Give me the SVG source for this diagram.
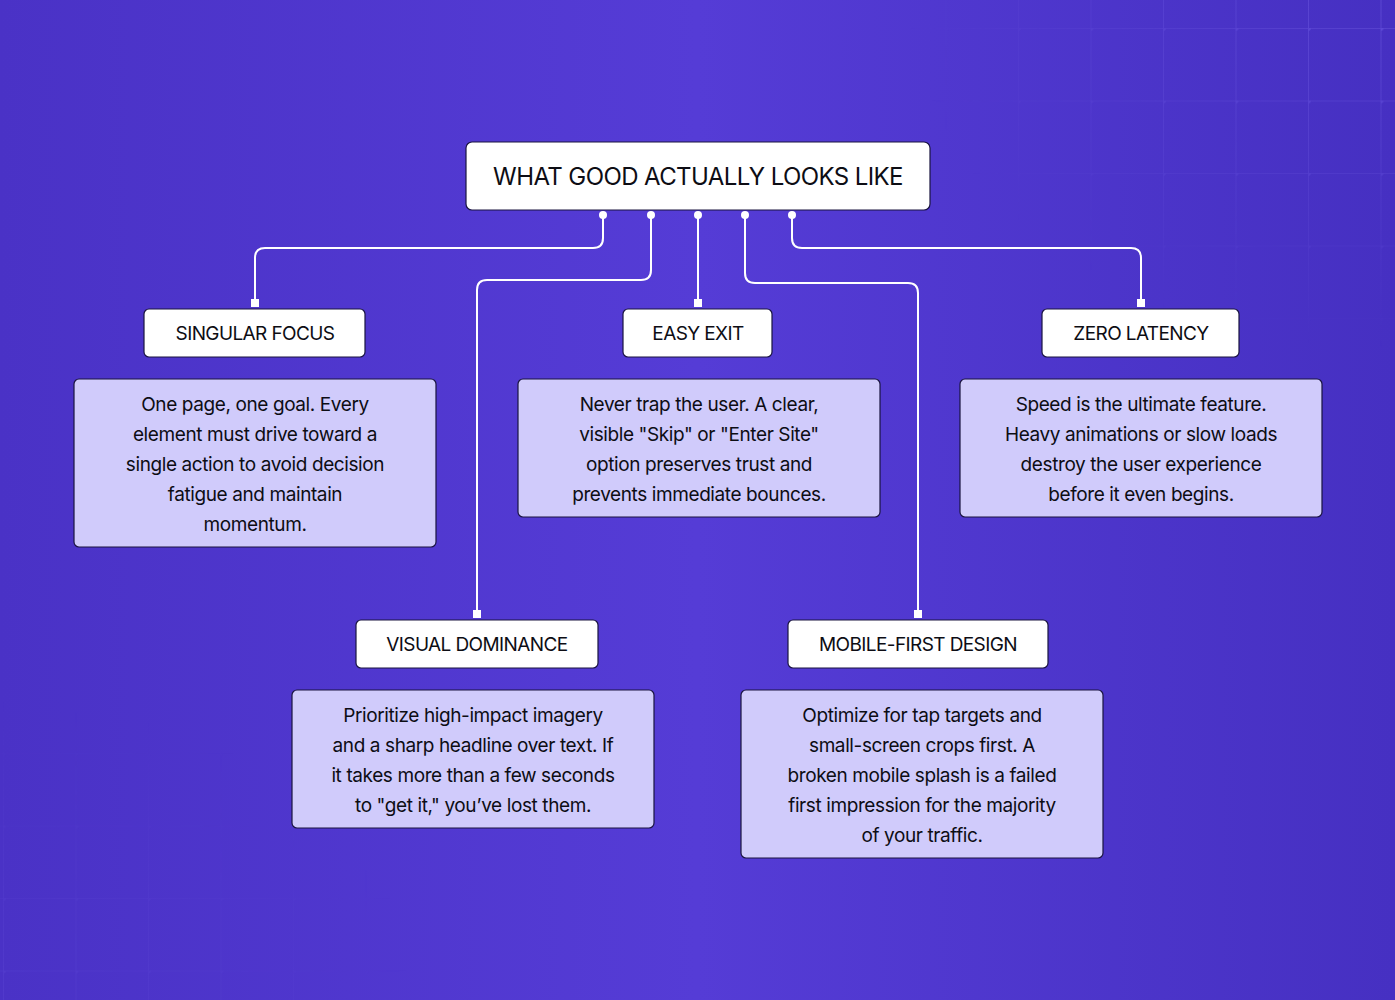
<svg xmlns="http://www.w3.org/2000/svg" width="1395" height="1000" viewBox="0 0 1395 1000">
<defs>
<linearGradient id="bg" x1="0" y1="0" x2="1" y2="0">
<stop offset="0" stop-color="#4a32c6"/><stop offset="0.5" stop-color="#553cd6"/><stop offset="1" stop-color="#4630c2"/>
</linearGradient>
<pattern id="grid" width="72.5" height="72.5" patternUnits="userSpaceOnUse" x="3" y="28">
<path d="M0 0H72.5M0 0V72.5" stroke="#7a66e8" stroke-width="1.2" fill="none"/>
<circle cx="0" cy="0" r="3" fill="#6a56e0"/>
</pattern>
<radialGradient id="fadeTR" cx="1" cy="0" r="0.35"><stop offset="0" stop-color="#fff" stop-opacity="0.7"/><stop offset="1" stop-color="#fff" stop-opacity="0"/></radialGradient>
<radialGradient id="fadeBL" cx="0" cy="1" r="0.3"><stop offset="0" stop-color="#fff" stop-opacity="0.25"/><stop offset="1" stop-color="#fff" stop-opacity="0"/></radialGradient>
<mask id="m"><rect width="1395" height="1000" fill="url(#fadeTR)"/><rect width="1395" height="1000" fill="url(#fadeBL)"/></mask>
</defs>
<style>
.h{fill:#fff;stroke:#1a1440;stroke-width:1.2}
.d{fill:#d0cbfb;stroke:#1a1440;stroke-width:1.2}
.ht{font-family:Inter,"Liberation Sans",sans-serif;font-size:19px;fill:#0d0d14;text-anchor:middle;letter-spacing:-0.6px}
.dt{font-family:Inter,"Liberation Sans",sans-serif;font-size:19px;fill:#0d0d14;text-anchor:middle;letter-spacing:-0.4px}
.c{fill:none;stroke:#fff;stroke-width:2}
</style>
<rect width="1395" height="1000" fill="url(#bg)"/>
<rect width="1395" height="1000" fill="url(#grid)" mask="url(#m)"/>
<g id="connectors">
<path class="c" d="M603 215V238Q603 248 593 248H265Q255 248 255 258V303"/>
<path class="c" d="M651 215V270Q651 280 641 280H487Q477 280 477 290V614"/>
<path class="c" d="M698 215V303"/>
<path class="c" d="M745 215V273Q745 283 755 283H908Q918 283 918 293V614"/>
<path class="c" d="M792 215V238Q792 248 802 248H1131Q1141 248 1141 258V303"/>
<g fill="#fff">
<circle cx="603" cy="215" r="4"/><circle cx="651" cy="215" r="4"/><circle cx="698" cy="215" r="4"/><circle cx="745" cy="215" r="4"/><circle cx="792" cy="215" r="4"/>
<rect x="251" y="299" width="8" height="8"/><rect x="473" y="610" width="8" height="8"/><rect x="694" y="299" width="8" height="8"/><rect x="914" y="610" width="8" height="8"/><rect x="1137" y="299" width="8" height="8"/>
</g>
</g>
<g id="title"><rect class="h" x="466" y="142" width="464" height="68" rx="6"/><text class="ht" x="698" y="185" style="font-size:24px">WHAT GOOD ACTUALLY LOOKS LIKE</text></g>
<g id="singular"><rect class="h" x="144" y="309" width="221" height="48" rx="5"/><text class="ht" x="255" y="340">SINGULAR FOCUS</text></g>
<g id="easyexit"><rect class="h" x="623" y="309" width="149" height="48" rx="5"/><text class="ht" x="698" y="340">EASY EXIT</text></g>
<g id="zerolatency"><rect class="h" x="1042" y="309" width="197" height="48" rx="5"/><text class="ht" x="1141" y="340">ZERO LATENCY</text></g>
<g id="visual"><rect class="h" x="356" y="620" width="242" height="48" rx="5"/><text class="ht" x="477" y="651">VISUAL DOMINANCE</text></g>
<g id="mobile"><rect class="h" x="788" y="620" width="260" height="48" rx="5"/><text class="ht" x="918" y="651">MOBILE-FIRST DESIGN</text></g>
<g id="d1"><rect class="d" x="74" y="379" width="362" height="168" rx="5"/>
<text class="dt" x="255" y="411">One page, one goal. Every</text><text class="dt" x="255" y="441">element must drive toward a</text><text class="dt" x="255" y="471">single action to avoid decision</text><text class="dt" x="255" y="501">fatigue and maintain</text><text class="dt" x="255" y="531">momentum.</text></g>
<g id="d2"><rect class="d" x="518" y="379" width="362" height="138" rx="5"/>
<text class="dt" x="699" y="411">Never trap the user. A clear,</text><text class="dt" x="699" y="441">visible "Skip" or "Enter Site"</text><text class="dt" x="699" y="471">option preserves trust and</text><text class="dt" x="699" y="501">prevents immediate bounces.</text></g>
<g id="d3"><rect class="d" x="960" y="379" width="362" height="138" rx="5"/>
<text class="dt" x="1141" y="411">Speed is the ultimate feature.</text><text class="dt" x="1141" y="441">Heavy animations or slow loads</text><text class="dt" x="1141" y="471">destroy the user experience</text><text class="dt" x="1141" y="501">before it even begins.</text></g>
<g id="d4"><rect class="d" x="292" y="690" width="362" height="138" rx="5"/>
<text class="dt" x="473" y="722">Prioritize high-impact imagery</text><text class="dt" x="473" y="752">and a sharp headline over text. If</text><text class="dt" x="473" y="782">it takes more than a few seconds</text><text class="dt" x="473" y="812">to "get it," you’ve lost them.</text></g>
<g id="d5"><rect class="d" x="741" y="690" width="362" height="168" rx="5"/>
<text class="dt" x="922" y="722">Optimize for tap targets and</text><text class="dt" x="922" y="752">small-screen crops first. A</text><text class="dt" x="922" y="782">broken mobile splash is a failed</text><text class="dt" x="922" y="812">first impression for the majority</text><text class="dt" x="922" y="842">of your traffic.</text></g>
</svg>
